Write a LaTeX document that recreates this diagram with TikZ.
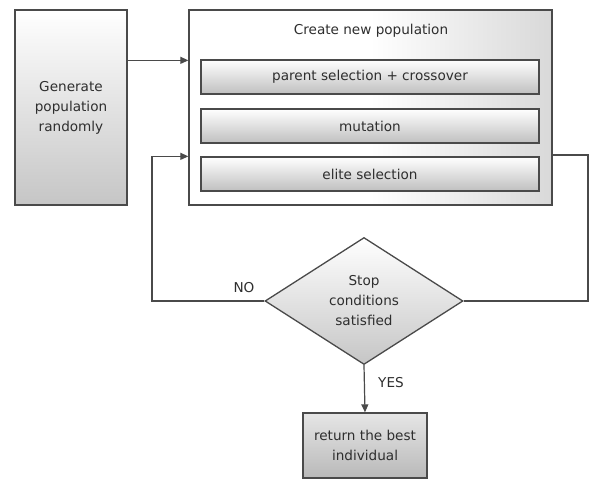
\documentclass[tikz,border=0pt]{standalone}
\usepackage{fontspec}
\setmainfont{DejaVu Sans}
\usetikzlibrary{shapes.geometric,arrows.meta,calc}
\definecolor{edge}{HTML}{4A4A4A}
\definecolor{txt}{HTML}{2E2E2E}
\tikzset{
  x=1pt,y=1pt,
  base/.style={draw=edge, line width=1.3pt, inner sep=0pt, align=center, text=txt,
    font=\fontsize{13.6}{20}\selectfont},
  bigbox/.style={base, rectangle, top color=white, bottom color=gray!45},
  frame/.style={base, rectangle, left color=white, right color=gray!30, middle color=white},
  bar/.style={base, rectangle, top color=white, bottom color=gray!50, minimum width=338, minimum height=34},
  decide/.style={base, diamond, aspect=1.56, minimum width=198, minimum height=127,
    top color=white, bottom color=gray!45},
  endbox/.style={base, rectangle, top color=gray!20, bottom color=gray!55, minimum width=124, minimum height=65},
  link/.style={draw=edge, line width=1.2pt},
  arr/.style={link, -{Triangle[length=8pt,width=7pt]}},
  lab/.style={text=txt, font=\fontsize{13.6}{16}\selectfont}
}
\begin{document}
\begin{tikzpicture}
\useasboundingbox (0,0) rectangle (589,-479);
\node[bigbox, minimum width=112, minimum height=195] (gen) at (71,-107.5) {Generate\\population\\randomly};
\node[frame, minimum width=363, minimum height=195] (create) at (370.5,-107.5) {};
\node[lab] (title) at (371,-31) {Create new population};
\node[bar] (parent) at (370,-77) {parent selection + crossover};
\node[bar] (mut) at (370,-126) {mutation};
\node[bar] (elite) at (370,-174) {elite selection};
\node[decide] (dia) at (364,-301) {Stop\\conditions\\satisfied};
\node[endbox] (ret) at (365,-445.5) {return the best\\individual};
\node[lab] (no) at (244,-288) {NO};
\node[lab] (yes) at (391,-383) {YES};
\coordinate (lx) at (152,-301);
\coordinate (rx) at (588,-155);
\draw[arr] ([yshift=-51pt]gen.north east) -- ([yshift=-51pt]create.north west);
\draw[arr] (dia.west) -- (lx) |- ([yshift=-147pt]create.north west);
\draw[link] (dia.east) -| (rx) -- (rx -| create.east);
\draw[arr] (dia.south) -- (ret.north);
\end{tikzpicture}
\end{document}
